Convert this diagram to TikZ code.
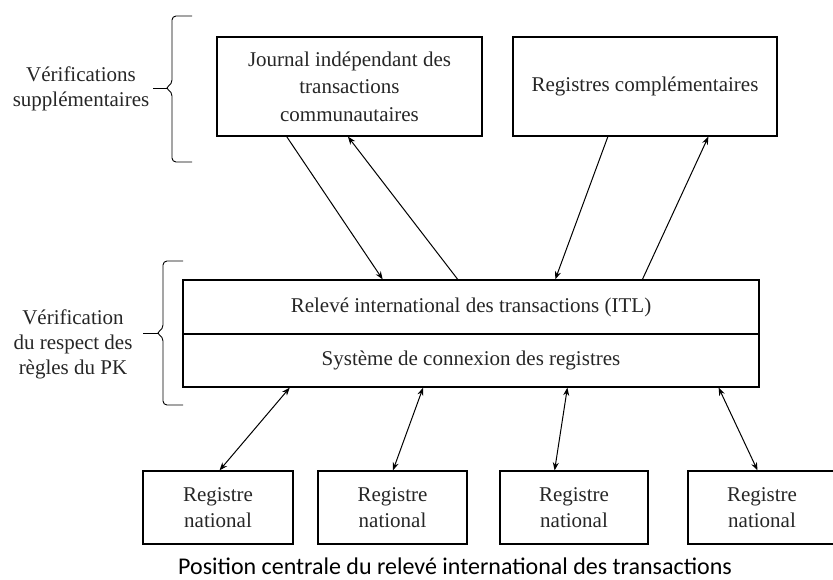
\documentclass[tikz,border=0pt]{standalone}
\usepackage{fontspec}
\setmainfont{Liberation Serif}
\newfontfamily\capfont{Carlito}
\usetikzlibrary{arrows.meta,calc}
\begin{document}
\begin{tikzpicture}[x=1pt,y=-1pt,
  box/.style={draw,line width=1.2pt,inner sep=0pt,align=center,text=black!85,
    font=\rmfamily\fontsize{21}{26}\selectfont},
  arr/.style={line width=1pt,-{Stealth[length=8pt,width=6pt]}},
  darr/.style={line width=1pt,{Stealth[length=8pt,width=6pt]}-{Stealth[length=8pt,width=6pt]}},
  bracestyle/.style={line width=0.9pt,rounded corners=4pt},
  lbl/.style={align=center,text=black!85,font=\rmfamily\fontsize{21}{25}\selectfont}]
\useasboundingbox (0,0) rectangle (833,579);
\clip (0,0) rectangle (833,579);

% top boxes
\node[box,minimum width=265pt,minimum height=99pt,font=\rmfamily\fontsize{21}{27.5}\selectfont] (journal) at (349.5,86.5)
  {Journal indépendant des\\transactions\\communautaires};
\node[box,minimum width=264pt,minimum height=99pt] (regcomp) at (645,86.5)
  {Registres complémentaires};

% central box
\node[box,minimum width=576pt,minimum height=54pt] (itl) at (471,307)
  {Relevé international des transactions (ITL)};
\node[box,minimum width=576pt,minimum height=53pt] (src) at (471,360.5)
  {Système de connexion des registres};

% national registries
\node[box,minimum width=150pt,minimum height=73pt] (r1) at (218,507.5) {Registre\\national};
\node[box,minimum width=149pt,minimum height=73pt] (r2) at (392.5,507.5) {Registre\\national};
\node[box,minimum width=148pt,minimum height=73pt] (r3) at (574,507.5) {Registre\\national};
\node[box,minimum width=148pt,minimum height=73pt] (r4) at (762,507.5) {Registre\\national};

% arrows top
\draw[arr] ($(journal.south west)!0.264!(journal.south east)$) -- ($(itl.north west)!0.347!(itl.north east)$);
\draw[arr] ($(itl.north west)!0.477!(itl.north east)$) -- ($(journal.south west)!0.494!(journal.south east)$);
\draw[arr] ($(regcomp.south west)!0.36!(regcomp.south east)$) -- ($(itl.north west)!0.646!(itl.north east)$);
\draw[arr] ($(itl.north west)!0.797!(itl.north east)$) -- ($(regcomp.south west)!0.739!(regcomp.south east)$);

% arrows bottom
\draw[darr] ($(src.south west)!0.186!(src.south east)$) -- ($(r1.north west)!0.51!(r1.north east)$);
\draw[darr] ($(src.south west)!0.417!(src.south east)$) -- ($(r2.north west)!0.503!(r2.north east)$);
\draw[darr] ($(src.south west)!0.667!(src.south east)$) -- ($(r3.north west)!0.37!(r3.north east)$);
\draw[darr] ($(src.south west)!0.929!(src.south east)$) -- ($(r4.north west)!0.47!(r4.north east)$);

% braces
\draw[bracestyle] (192,16) -- (172,16) -- (172,84) -- (165,88) -- (172,92) -- (172,162) -- (192,162);
\draw[line width=0.9pt] (167,88) -- (153,88);
\draw[bracestyle] (183,261) -- (163,261) -- (163,329) -- (156,333) -- (163,337) -- (163,405) -- (183,405);
\draw[line width=0.9pt] (158,333) -- (143,333);

% labels
\node[lbl] (lab1) at (81,89) {Vérifications\\supplémentaires};
\node[lbl] (lab2) at (73,344) {Vérification\\du respect des\\règles du PK};

% caption
\node[font=\capfont\fontsize{24}{28}\selectfont] (cap) at (455,566)
  {Position centrale du relevé international des transactions};
\end{tikzpicture}
\end{document}
